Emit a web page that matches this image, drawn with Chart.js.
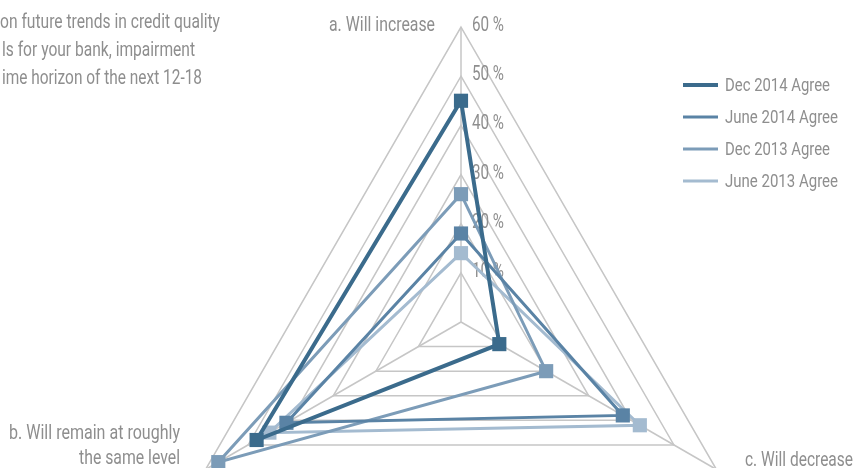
<!DOCTYPE html>
<html>
<head>
<meta charset="utf-8">
<script src="https://cdn.jsdelivr.net/npm/chart.js@4"></script>
<style>
  html, body { margin: 0; padding: 0; background: #ffffff; }
  #wrap { position: relative; width: 854px; height: 468px; overflow: hidden; }
  #c { position: absolute; left: 0; top: 0; }
</style>
</head>
<body>
<div id="wrap"><canvas id="c" width="854" height="640"></canvas></div>
<script>
// ---- data ----
const categories = [
  ['a. Will increase'],
  ['b. Will remain at roughly', 'the same level'],
  ['c. Will decrease']
];
const seriesNames = ['Dec 2014 Agree', 'June 2014 Agree', 'Dec 2013 Agree', 'June 2013 Agree'];
const dec2014 = [45, 48, 9];
const jun2014 = [18, 41, 38];
const dec2013 = [26, 57, 20];
const jun2013 = [14, 45, 42];
const tickValues = [10, 20, 30, 40, 50, 60];
const tickLabels = ['10 %', '20 %', '30 %', '40 %', '50 %', '60 %'];
const titleLines = [
  'on future trends in credit quality',
  'ls for your bank, impairment',
  'ime horizon of the next 12-18'
];

// ---- styles ----
// categories run counter-clockwise (a top, b bottom-left, c bottom-right);
// Chart.js goes clockwise, so the axes are visited in this order:
const axisOrder = [0, 2, 1];
const colors = ['#3b6b8c', '#5a83a5', '#7c9cb8', '#a4bbd0'];
const widths = [4, 3, 3, 3];
const FONT = 'Roboto, "DejaVu Sans Condensed", sans-serif';
const MAINFONT = '400 20px ' + FONT;
const LEGFONT = '400 18px ' + FONT;
const TEXT = '#8e8e8e';
const GRID = '#c6c6c6';

const seriesValues = [dec2014, jun2014, dec2013, jun2013];

// draw text squeezed horizontally so that it spans the given width
function drawFit(ctx, text, x, y, width) {
  const w = ctx.measureText(text).width;
  ctx.save();
  ctx.translate(x, y);
  ctx.scale(width / w, 1);
  ctx.fillText(text, 0, 0);
  ctx.restore();
}

const textPlugin = {
  id: 'texts',
  beforeDatasetsDraw(chart) {
    const ctx = chart.ctx;
    const r = chart.scales.r;
    ctx.save();
    ctx.fillStyle = TEXT;
    ctx.font = MAINFONT;
    ctx.textAlign = 'left';
    ctx.textBaseline = 'middle';
    tickValues.forEach((v, i) => {
      const p = r.getPointPositionForValue(0, v);
      drawFit(ctx, tickLabels[i], p.x + 11, p.y - 1, 32);
    });
    ctx.restore();
  },
  afterDraw(chart) {
    const ctx = chart.ctx;
    ctx.save();
    ctx.fillStyle = TEXT;
    ctx.textBaseline = 'alphabetic';
    ctx.font = MAINFONT;
    // title fragment (clipped at the left edge in the original)
    ctx.textAlign = 'left';
    const titleBox = [[0, 220], [2, 193], [2, 200]];
    titleLines.forEach((t, i) => drawFit(ctx, t, titleBox[i][0], 28 + i * 28, titleBox[i][1]));
    // category labels
    ctx.textAlign = 'right';
    drawFit(ctx, categories[0][0], 435, 31, 106);
    drawFit(ctx, categories[1][0], 180, 439, 171);
    drawFit(ctx, categories[1][1], 180, 464, 101);
    ctx.textAlign = 'left';
    drawFit(ctx, categories[2][0], 745, 466, 108);
    // legend
    ctx.font = LEGFONT;
    ctx.textBaseline = 'middle';
    const legW = [105, 113, 105, 113];
    chart.data.datasets.forEach((ds, i) => {
      const y = 85 + i * 32;
      ctx.strokeStyle = ds.borderColor;
      ctx.lineWidth = ds.borderWidth;
      ctx.beginPath();
      ctx.moveTo(683, y);
      ctx.lineTo(718, y);
      ctx.stroke();
      ctx.fillStyle = TEXT;
      drawFit(ctx, ds.label, 725, y + 1, legW[i]);
    });
    ctx.restore();
  }
};

new Chart(document.getElementById('c'), {
  type: 'radar',
  data: {
    labels: axisOrder.map(k => categories[k]),
    datasets: seriesValues.map((vals, i) => ({
      label: seriesNames[i],
      data: axisOrder.map(k => vals[k]),
      borderColor: colors[i],
      backgroundColor: colors[i],
      borderWidth: widths[i],
      pointBackgroundColor: colors[i],
      pointBorderWidth: 0,
      pointStyle: 'rect',
      pointRadius: 10,
      pointHoverRadius: 10,
      fill: false,
      tension: 0
    }))
  },
  options: {
    responsive: false,
    animation: false,
    devicePixelRatio: 1,
    layout: { padding: { left: 166, top: 27, right: 98, bottom: 23 } },
    plugins: { legend: { display: false }, tooltip: { enabled: false }, title: { display: false } },
    scales: {
      r: {
        min: 0,
        max: 60,
        startAngle: 0,
        ticks: { display: false, stepSize: 10 },
        pointLabels: { display: false },
        grid: { color: GRID, lineWidth: 1.5, circular: false },
        angleLines: { color: GRID, lineWidth: 1.5 }
      }
    }
  },
  plugins: [textPlugin]
});
</script>
</body>
</html>
